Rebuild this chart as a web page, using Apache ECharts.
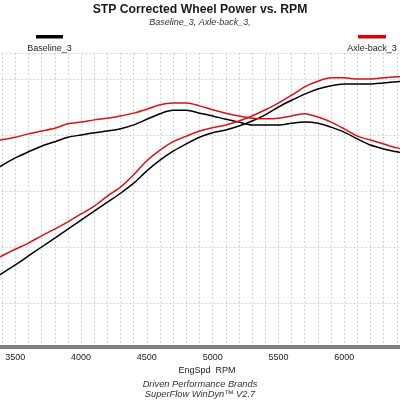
<!DOCTYPE html>
<html>
<head>
<meta charset="utf-8">
<script src="https://cdn.jsdelivr.net/npm/echarts@6/dist/echarts.min.js"></script>
<style>
html, body { margin: 0; padding: 0; background: #fff; }
#chart { width: 400px; height: 400px; }
</style>
</head>
<body>
<div id="chart"></div>
<script>
// engine speed, rpm
var rpm = [3380, 3500, 3600, 3700, 3800, 3900, 4000, 4100, 4200, 4300, 4400,
  4500, 4600, 4700, 4800, 4900, 5000, 5100, 5200, 5300, 5400,
  5500, 5600, 5700, 5800, 5900, 6000, 6100, 6200, 6300, 6400, 6450];

// same scale for power and torque (curves cross at 5252)
var baseTorque = [271.5, 279.5, 285, 290, 294, 298, 300, 302, 303.5, 305.5, 309,
  314, 319, 322, 322, 319.5, 317, 314, 311.5, 309, 309,
  309, 310.5, 311.5, 310.5, 307, 302.5, 296.5, 291, 287.5, 285, 283.5];
var axleTorque = [295.5, 298, 301, 303.5, 306, 310, 311.5, 313.5, 315, 317, 319.5,
  323, 327, 328.5, 328.5, 326, 322.5, 319.5, 317, 315, 314.5,
  315, 317, 319, 316, 311.5, 305.5, 299, 295.5, 292, 288.5, 287.5];
var basePower = [175, 184, 192, 200, 208, 216, 224, 232, 240, 248, 257,
  268, 277.5, 285.5, 292, 298, 302, 304.5, 308, 312.5, 318,
  325, 331, 336.5, 341, 344, 345.5, 345.5, 345.5, 346.5, 347.5, 348];
var axlePower = [191, 198, 203.5, 210, 216, 222.5, 229.5, 236.5, 245.5, 253.5, 264.5,
  277, 286.5, 294, 299, 303.5, 306.5, 309, 312.5, 317, 322.5,
  328.5, 335.5, 343, 348, 351, 351, 350, 350, 351, 352, 352];

var runs = ['Baseline_3', 'Axle-back_3'];
var colors = ['#000000', '#dd1111'];

var font = '"Liberation Sans", Arial, sans-serif';
var grid = { color: '#d2d2d2', type: [2, 2], width: 1 };

function pairs(ys) {
  return rpm.map(function(r, i) { return [r, ys[i]]; });
}

function line(name, ys, color) {
  return {
    name: name,
    type: 'line',
    xAxisIndex: 1,
    yAxisIndex: 1,
    data: pairs(ys),
    showSymbol: false,
    smooth: 0.3,
    lineStyle: { color: color, width: 1.5 },
    itemStyle: { color: color }
  };
}

var chart = echarts.init(document.getElementById('chart'));
chart.setOption({
  animation: false,
  backgroundColor: '#fff',
  title: {
    text: 'STP Corrected Wheel Power vs. RPM',
    subtext: runs.join(', ') + ',',
    left: 'center',
    top: 3,
    padding: 0,
    itemGap: 1,
    textStyle: { fontFamily: font, fontSize: 12.2, fontWeight: 'bold', color: '#1a1a1a', lineHeight: 13 },
    subtextStyle: { fontFamily: font, fontSize: 9, fontStyle: 'italic', color: '#333', lineHeight: 10 }
  },
  grid: [
    { left: -50.5, right: -10, top: 53, bottom: 53.5, outerBoundsMode: 'none', containLabel: false },
    { left: -50.5, right: -10, top: 53, bottom: 97, outerBoundsMode: 'none', containLabel: false }
  ],
  xAxis: [{
    gridIndex: 0,
    type: 'value',
    min: 3000,
    max: 6500,
    interval: 500,
    axisLine: { lineStyle: { color: '#808080', width: 4 } },
    axisTick: { show: false },
    axisLabel: {
      margin: 7, fontFamily: font, fontSize: 9, color: '#222',
      formatter: function(v) { return String(v); }
    },
    splitLine: { show: true, lineStyle: grid },
    minorTick: { show: false, splitNumber: 5 },
    minorSplitLine: { show: true, lineStyle: grid }
  }, {
    gridIndex: 1,
    type: 'value',
    min: 3000,
    max: 6500,
    show: false
  }],
  yAxis: [{
    gridIndex: 0,
    type: 'value',
    min: 0,
    max: 1,
    show: false
  }, {
    gridIndex: 1,
    type: 'value',
    min: 150,
    max: 373.2,
    interval: 50,
    axisLine: { show: false },
    axisTick: { show: false },
    axisLabel: { show: false },
    splitLine: { show: true, lineStyle: grid }
  }],
  graphic: [
    { type: 'rect', shape: { x: 36, y: 35, width: 27, height: 3.5 }, style: { fill: colors[0] } },
    { type: 'text', style: { text: runs[0], x: 49.5, y: 49, align: 'center', verticalAlign: 'middle', font: '9px ' + font, fill: '#222' } },
    { type: 'rect', shape: { x: 358, y: 35, width: 28, height: 3.5 }, style: { fill: '#e00000' } },
    { type: 'text', style: { text: runs[1], x: 372, y: 49, align: 'center', verticalAlign: 'middle', font: '9px ' + font, fill: '#222' } },
    { type: 'text', style: { text: 'EngSpd  RPM', x: 207, y: 371, align: 'center', verticalAlign: 'middle', font: '9px ' + font, fill: '#222' } },
    { type: 'text', style: { text: 'Driven Performance Brands', x: 200, y: 384, align: 'center', verticalAlign: 'middle', font: 'italic 9.3px ' + font, fill: '#333' } },
    { type: 'text', style: { text: 'SuperFlow WinDyn\u2122 V2.7', x: 200, y: 394, align: 'center', verticalAlign: 'middle', font: 'italic 9.3px ' + font, fill: '#333' } }
  ],
  series: [
    line(runs[0] + ' Torque', baseTorque, colors[0]),
    line(runs[0] + ' Power', basePower, colors[0]),
    line(runs[1] + ' Torque', axleTorque, colors[1]),
    line(runs[1] + ' Power', axlePower, colors[1])
  ]
});
</script>
</body>
</html>
